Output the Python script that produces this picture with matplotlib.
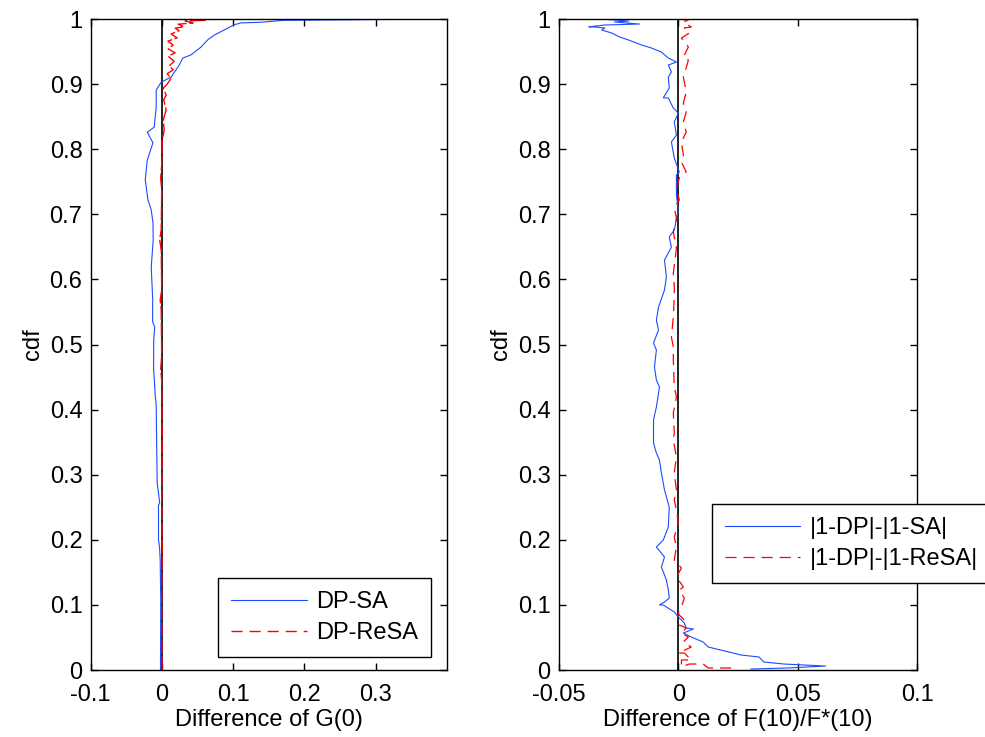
import matplotlib
matplotlib.use("Agg")
import matplotlib.pyplot as plt

plt.rcParams['font.family'] = ['Liberation Sans', 'DejaVu Sans']
plt.rcParams['font.size'] = 17
plt.rcParams['lines.scale_dashes'] = False

# left panel: Difference of G(0)
g_sa_x = [-0.0020, -0.0017, -0.0024, -0.0034, -0.0048, -0.0048, -0.0031, -0.0066, -0.0073, -0.0080,
          -0.0094, -0.0117, -0.0115, -0.0101, -0.0131, -0.0129, -0.0150, -0.0122, -0.0126, -0.0150,
          -0.0196, -0.0234, -0.0206, -0.0126, -0.0206, -0.0108, -0.0080, -0.0080, -0.0010, 0.0130,
          0.0242, 0.0294, 0.0410, 0.0550, 0.0643, 0.0731, 0.0871, 0.1011, 0.1109, 0.1389, 0.1710, 0.3906]
g_sa_cdf = [0.0, 0.108, 0.169, 0.189, 0.200, 0.253, 0.257, 0.287, 0.338, 0.407,
            0.422, 0.464, 0.507, 0.527, 0.535, 0.568, 0.619, 0.661, 0.687, 0.707,
            0.722, 0.753, 0.783, 0.810, 0.826, 0.834, 0.865, 0.891, 0.903, 0.911,
            0.929, 0.940, 0.945, 0.957, 0.968, 0.975, 0.983, 0.991, 0.994, 0.995, 0.998, 1.0]

g_resa_x = [0.0004, -0.0003, 0.0004, -0.0003, 0.0004, -0.0003, -0.0017, -0.0003, -0.0010, -0.0024,
            -0.0003, -0.0010, -0.0031, -0.0010, -0.0003, -0.0017, -0.0003, 0.0004,
            0.0032, 0.0018, 0.0060, 0.0025, 0.0060, 0.0018, 0.0074, 0.0130, 0.0074, 0.0158,
            0.0102, 0.0172, 0.0088, 0.0186, 0.0088, 0.0158, 0.0084, 0.0214, 0.0130, 0.0242,
            0.0186, 0.0312, 0.0228, 0.0438, 0.0326, 0.0620, 0.0410, 0.1011]
g_resa_cdf = [0.0, 0.108, 0.169, 0.261, 0.353, 0.445, 0.461, 0.484, 0.553, 0.568,
              0.584, 0.645, 0.661, 0.676, 0.737, 0.756, 0.776, 0.814,
              0.829, 0.845, 0.860, 0.876, 0.883, 0.894, 0.900, 0.909, 0.916, 0.922,
              0.928, 0.935, 0.943, 0.948, 0.954, 0.960, 0.966, 0.971, 0.977, 0.982,
              0.986, 0.988, 0.992, 0.994, 0.997, 0.998, 0.999, 1.0]

# right panel: Difference of F(10)/F*(10)
f_sa_x = [0.0304, 0.0458, 0.0617, 0.0442, 0.0358, 0.0338, 0.0263, 0.0213, 0.0125, 0.0104,
          0.0054, 0.0021, 0.0063, 0.0033, 0.0025, 0.0, -0.0017, -0.0063, -0.0079, -0.0058,
          -0.0038, -0.0042, -0.0050, -0.0071, -0.0058, -0.0092, -0.0063, -0.0042, -0.0038, -0.0058,
          -0.0071, -0.0079, -0.0092, -0.0104, -0.0104, -0.0092, -0.0079, -0.0092, -0.0100, -0.0092,
          -0.0104, -0.0083, -0.0092, -0.0083, -0.0058, -0.0050, -0.0058, -0.0042, -0.0029, -0.0038,
          -0.0017, 0.0, -0.0008, -0.0008, 0.0004, -0.0017, -0.0029, -0.0008, -0.0017, 0.0,
          -0.0021, -0.0042, -0.0063, -0.0038, -0.0042, -0.0029, -0.0042, -0.0008, -0.0042, -0.0071,
          -0.0113, -0.0154, -0.0208, -0.0246, -0.0279, -0.0321, -0.0308, -0.0350, -0.0375, -0.0308,
          -0.0163, -0.0267, -0.0208, -0.0321, 0.0]
f_sa_cdf = [0.0015, 0.0031, 0.0061, 0.0092, 0.0123, 0.0200, 0.0230, 0.0276, 0.0353, 0.0430,
            0.0507, 0.0568, 0.0630, 0.0645, 0.0722, 0.0814, 0.0891, 0.0998, 0.1000, 0.1045,
            0.1106, 0.1229, 0.1382, 0.1582, 0.1736, 0.1889, 0.1997, 0.2197, 0.2504, 0.2765,
            0.3026, 0.3226, 0.3333, 0.3487, 0.3840, 0.4040, 0.4347, 0.4455, 0.4654, 0.4916,
            0.5023, 0.5223, 0.5376, 0.5576, 0.5837, 0.6037, 0.6298, 0.6406, 0.6498, 0.6651,
            0.6759, 0.7066, 0.7296, 0.7604, 0.7650, 0.7865, 0.8111, 0.8218, 0.8418, 0.8556,
            0.8633, 0.8787, 0.8790, 0.8940, 0.9109, 0.9186, 0.9293, 0.9339, 0.9401, 0.9493,
            0.9555, 0.9601, 0.9677, 0.9724, 0.9785, 0.9831, 0.9862, 0.9877, 0.9880, 0.9908,
            0.9923, 0.9954, 0.9969, 1.0, 1.0]

f_resa_x = [0.0221, 0.0125, 0.0104, 0.0046, 0.0013, 0.0013, 0.0054, 0.0025, 0.0, 0.0054,
            0.0021, 0.0042, 0.0013, 0.0033, 0.0004, 0.0025, 0.0004, 0.0, 0.0013, 0.0025,
            0.0004, 0.0021, -0.0008, 0.0013, -0.0017, -0.0008, -0.0017, 0.0, -0.0008, -0.0017,
            -0.0008, -0.0017, -0.0008, -0.0021, -0.0017, -0.0021, -0.0008, -0.0017, -0.0021, -0.0021,
            -0.0029, -0.0021, -0.0017, -0.0017, -0.0021, -0.0008, -0.0021, -0.0008, -0.0017, 0.0004,
            -0.0008, 0.0004, 0.0033, 0.0013, 0.0021, 0.0013, 0.0033, 0.0021, 0.0033, 0.0021,
            0.0033, 0.0025, 0.0021, 0.0033, 0.0042, 0.0021, 0.0042, 0.0013, 0.0046, 0.0025,
            0.0054, 0.0021, 0.0042, 0.0004]
f_resa_cdf = [0.0031, 0.0031, 0.0092, 0.0092, 0.0046, 0.0154, 0.0154, 0.0261, 0.0261, 0.0353,
              0.0430, 0.0507, 0.0568, 0.0645, 0.0691, 0.0768, 0.0845, 0.0876, 0.0968, 0.1106,
              0.1229, 0.1275, 0.1429, 0.1567, 0.1690, 0.1889, 0.2043, 0.2258, 0.2458, 0.2611,
              0.2765, 0.3026, 0.3272, 0.3533, 0.3641, 0.3948, 0.4194, 0.4347, 0.4762, 0.4962,
              0.5115, 0.5422, 0.5730, 0.5883, 0.6098, 0.6482, 0.6728, 0.6943, 0.7097, 0.7220,
              0.7404, 0.7558, 0.7650, 0.7803, 0.7911, 0.8111, 0.8264, 0.8418, 0.8571, 0.8710,
              0.8879, 0.9032, 0.9109, 0.9247, 0.9370, 0.9416, 0.9570, 0.9708, 0.9785, 0.9862,
              0.9877, 0.9954, 0.9985, 1.0]

left_xticks = [-0.1, 0, 0.1, 0.2, 0.3]
left_xlabels = ['-0.1', '0', '0.1', '0.2', '0.3']
right_xticks = [-0.05, 0, 0.05, 0.1]
right_xlabels = ['-0.05', '0', '0.05', '0.1']
yticks = [0, 0.1, 0.2, 0.3, 0.4, 0.5, 0.6, 0.7, 0.8, 0.9, 1]
ylabels = ['0', '0.1', '0.2', '0.3', '0.4', '0.5', '0.6', '0.7', '0.8', '0.9', '1']

blue = '#1a4dff'
red = '#ff0000'

fig = plt.figure(figsize=(9.85, 7.37), dpi=100)
ax1 = fig.add_axes([0.0921, 0.0909, 0.3614, 0.8833])
ax2 = fig.add_axes([0.5675, 0.0909, 0.3635, 0.8833])


def style(ax, xlim, xticks, xlabels, xlabel):
    ax.set_xlim(*xlim)
    ax.set_ylim(0, 1)
    ax.set_xticks(xticks)
    ax.set_xticklabels(xlabels)
    ax.set_yticks(yticks)
    ax.set_yticklabels(ylabels)
    ax.tick_params(direction='in', top=True, right=True, length=5, width=1)
    ax.tick_params(axis='y', pad=6)
    ax.tick_params(axis='x', pad=10)
    for s in ax.spines.values():
        s.set_linewidth(1.0)
    ax.set_xlabel(xlabel, labelpad=2)
    ax.set_ylabel('cdf', labelpad=4)


ax1.axvline(0, color='black', lw=1.2, zorder=1.5)
ax1.plot(g_sa_x, g_sa_cdf, color=blue, lw=0.8, label='DP-SA')
ax1.plot(g_resa_x, g_resa_cdf, color=red, lw=1.0, dashes=(10, 2), label='DP-ReSA')
style(ax1, (-0.1, 0.4), left_xticks, left_xlabels, 'Difference of G(0)')
leg1 = ax1.legend(loc='upper left', bbox_to_anchor=(0.3585, 0.1413), borderaxespad=0,
                  fancybox=False, framealpha=1, edgecolor='black', handlelength=3.2,
                  handletextpad=0.4, borderpad=0.55, labelspacing=0.4, fontsize=17)
leg1.get_lines()[1].set_dashes((8, 5))

ax2.axvline(0, color='black', lw=1.2, zorder=1.5)
ax2.plot(f_sa_x, f_sa_cdf, color=blue, lw=0.8, label='|1-DP|-|1-SA|')
ax2.plot(f_resa_x, f_resa_cdf, color=red, lw=0.9, dashes=(8, 5), label='|1-DP|-|1-ReSA|')
style(ax2, (-0.05, 0.1), right_xticks, right_xlabels, 'Difference of F(10)/F*(10)')
ax2.legend(loc='upper left', bbox_to_anchor=(0.426, 0.255), borderaxespad=0,
           fancybox=False, framealpha=1, edgecolor='black', handlelength=3.2,
           handletextpad=0.4, borderpad=0.55, labelspacing=0.4, fontsize=17)

fig.savefig('out.png', dpi=100, facecolor='white')
